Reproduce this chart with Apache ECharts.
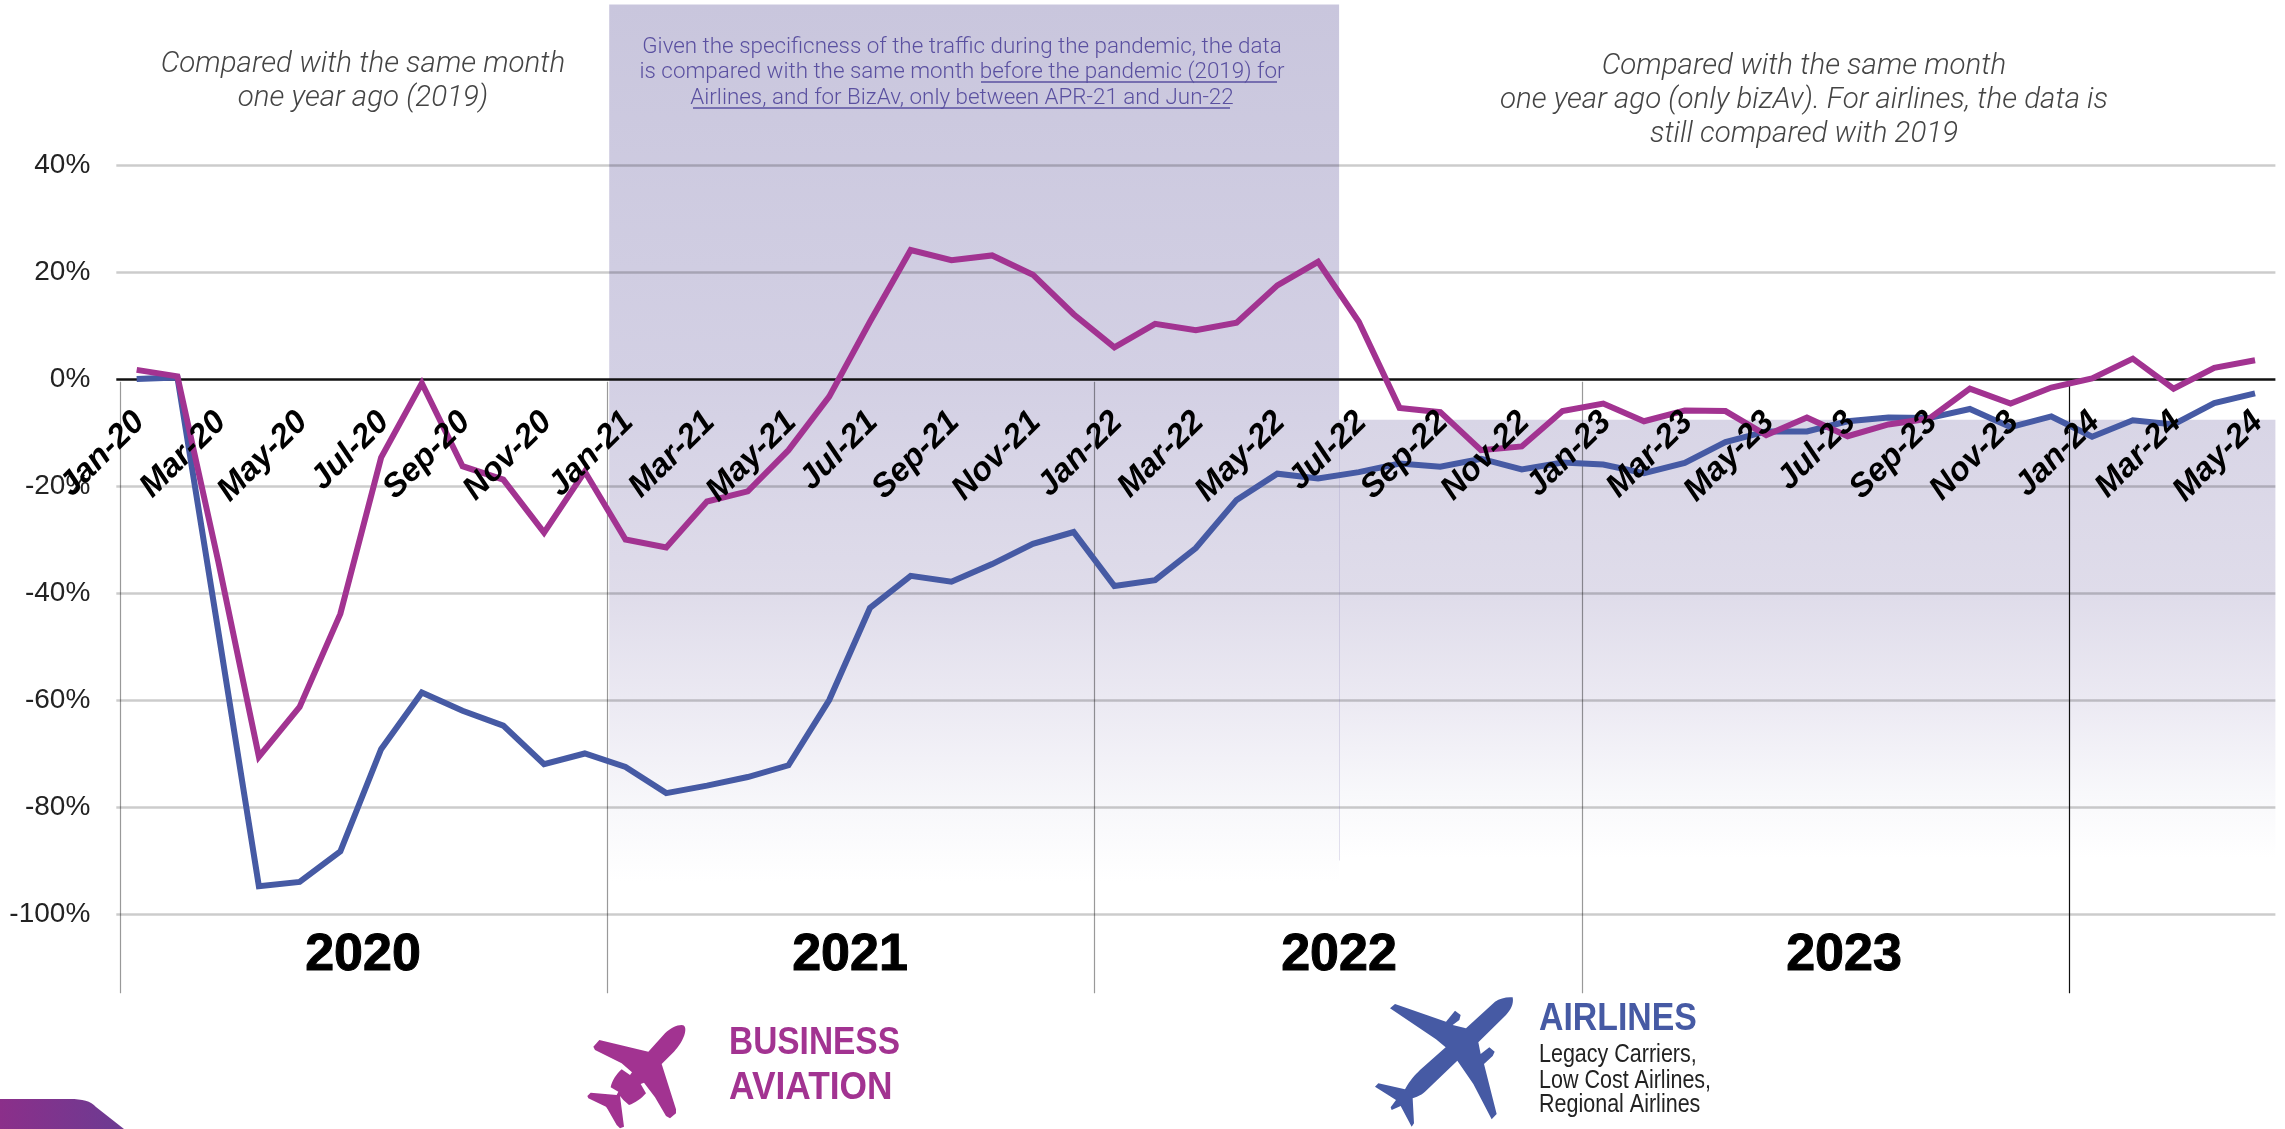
<!DOCTYPE html>
<html>
<head>
<meta charset="utf-8">
<style>
html,body{margin:0;padding:0;background:#fff}
#main{width:2285px;height:1129px}
</style>
<script src="https://cdn.jsdelivr.net/npm/echarts@6/dist/echarts.min.js"></script>
</head>
<body>
<div id="main"></div>
<script>
// monthly change, Jan-20 to May-24
const months = ['Jan-20','Feb-20','Mar-20','Apr-20','May-20','Jun-20','Jul-20','Aug-20','Sep-20','Oct-20','Nov-20','Dec-20',
  'Jan-21','Feb-21','Mar-21','Apr-21','May-21','Jun-21','Jul-21','Aug-21','Sep-21','Oct-21','Nov-21','Dec-21',
  'Jan-22','Feb-22','Mar-22','Apr-22','May-22','Jun-22','Jul-22','Aug-22','Sep-22','Oct-22','Nov-22','Dec-22',
  'Jan-23','Feb-23','Mar-23','Apr-23','May-23','Jun-23','Jul-23','Aug-23','Sep-23','Oct-23','Nov-23','Dec-23',
  'Jan-24','Feb-24','Mar-24','Apr-24','May-24'];
const bizav = [1.7,0.5,-34,-70.6,-61.3,-43.9,-14.7,-0.8,-16.3,-18.8,-28.7,-17.3,
  -30,-31.5,-22.9,-21,-13.3,-3.3,10.7,24.1,22.2,23.1,19.5,12.1,
  5.9,10.3,9.1,10.5,17.5,21.9,10.7,-5.4,-6.2,-13.3,-12.6,-6,
  -4.6,-7.9,-5.9,-6,-10.5,-7.2,-10.7,-8.5,-7.4,-1.8,-4.6,-1.6,
  0.1,3.8,-1.8,2.1,3.5];
const airlines = [0,0.3,-47,-94.8,-94,-88.3,-69.2,-58.6,-62,-64.8,-72,-70,
  -72.5,-77.4,-76,-74.4,-72.2,-60,-42.8,-36.8,-37.9,-34.6,-30.8,-28.6,
  -38.7,-37.6,-31.6,-22.6,-17.7,-18.6,-17.4,-15.8,-16.4,-14.9,-16.9,-15.6,
  -16,-17.6,-15.7,-11.8,-9.8,-9.8,-7.9,-7.2,-7.3,-5.6,-9,-7,
  -10.8,-7.7,-8.5,-4.5,-2.7];
const yTicks = [40,20,-20,-40,-60,-80,-100];
const yearLines = [2020,2021,2022,2023];
const yearLabels = ['2020','2021','2022','2023'];

const purple = '#a23391', blue = '#465aa4';
const textFont = 'Roboto', heading = 'Liberation Sans';

// icons, the graphic component has no plain path type
echarts.graphic.registerShape('planeBiz', echarts.graphic.extendPath('M335,45C345,45 348,55 345,68C340,90 325,110 312,125L275,162L318,298L318,310L300,325L288,318L255,262L222,218L212,222L228,250C215,265 195,280 177,285L160,270L150,258L162,350L150,355L140,345L113,298L108,290L55,265L52,258L62,248L140,255L145,245L122,232C125,215 140,190 155,178L180,195L186,187L155,160L75,120L70,110L88,90L235,125L285,70C300,55 320,45 335,45Z'));
echarts.graphic.registerShape('planeAir', echarts.graphic.extendPath('M458,22C462,42 452,60 438,75L355,157L362,192L388,172L404,185L398,198L372,222L410,372L395,388L340,282L292,212L195,305C180,318 170,320 158,325L162,400L155,410L122,348L95,360L92,352L108,330L45,290L55,280L135,298C150,270 165,255 180,240L257,172L228,148L90,55L105,42L258,95L285,62L302,75L298,90L278,105L318,115L405,35C420,25 440,20 458,22Z'));
echarts.graphic.registerShape('cornerTab', echarts.graphic.extendPath('M0,0L70,0C82,0 91,2 96,8L124,30L0,30Z'));

function txt(x, y, text, size, color, extra, squeeze) {
  return {type:'text', x:x, y:y, z:20, silent:true, scaleX:squeeze || 1, style:Object.assign({
    text:text, fontSize:size, fill:color, fontFamily:textFont, fontWeight:300,
    align:'center', verticalAlign:'middle', lineHeight:size*1.25
  }, extra || {})};
}
function rule(x1, x2, y, color) {
  return {type:'line', z:20, silent:true, shape:{x1:x1,y1:y,x2:x2,y2:y}, style:{stroke:color,lineWidth:1.5}};
}
const bold = {fontFamily:heading, fontWeight:'bold', align:'left'};
const annot = {fontStyle:'italic', lineHeight:34};
const year = {fontFamily:heading, fontWeight:'bold', stroke:'#000', lineWidth:1};
const small = {fontFamily:heading, fontWeight:'normal', align:'left'};

const graphics = [
  txt(363,82,'Compared with the same month\none year ago (2019)',29.5,'#444',annot),
  txt(962,72.5,'Given the specificness of the traffic during the pandemic, the data\nis compared with the same month before the pandemic (2019) for\nAirlines, and for BizAv, only between APR-21 and Jun-22',22.4,'#5a50a0',{lineHeight:25.5}),
  rule(981,1277,82,'#5a50a0'),
  rule(693,1230,108,'#5a50a0'),
  txt(1804,101,'Compared with the same month\none year ago (only bizAv). For airlines, the data is\nstill compared with 2019',29.5,'#444',annot),
  txt(363,956,yearLabels[0],52,'#000',year),
  txt(850,956,yearLabels[1],52,'#000',year),
  txt(1339,956,yearLabels[2],52,'#000',year),
  txt(1844,956,yearLabels[3],52,'#000',year),
  {type:'planeBiz', z:20, silent:true, x:570, y:1010, scaleX:1/3, scaleY:1/3, style:{fill:purple}},
  {type:'planeAir', z:20, silent:true, x:1360, y:990, scaleX:1/3, scaleY:1/3, style:{fill:blue}},
  txt(729,1044,'BUSINESS',38,purple,bold,0.88),
  txt(729,1089,'AVIATION',38,purple,bold,0.93),
  txt(1539,1020,'AIRLINES',38,blue,bold,0.89),
  txt(1539,1055,'Legacy Carriers,',25,'#222',small,0.86),
  txt(1539,1081,'Low Cost Airlines,',25,'#222',small,0.86),
  txt(1539,1105,'Regional Airlines',25,'#222',small,0.86),
  {type:'cornerTab', z:20, silent:true, x:0, y:1099,
    style:{fill:new echarts.graphic.LinearGradient(0,0,1,0,[{offset:0,color:'#8b2f8a'},{offset:1,color:'#6c3b92'}])}}
];

function fade(stops) {
  return new echarts.graphic.LinearGradient(0,0,0,1,stops.map(s => ({offset:s[0],color:s[1]})));
}
const shadeTop = fade([[0,'#c9c6dd'],[0.43,'#d3d0e4'],[0.67,'#dfdcea'],[0.8,'#eceaf3'],[0.92,'#f8f8fb'],[1,'#ffffff']]);
const shadeLow = fade([[0,'#d8d5e6'],[0.4,'#dfdcea'],[0.65,'#eceaf3'],[0.85,'#f8f8fb'],[1,'#ffffff']]);

const chart = echarts.init(document.getElementById('main'), null, {renderer:'canvas'});
chart.setOption({
  animation:false,
  backgroundColor:'#fff',
  grid:{left:116.3, right:9.6, top:4.5, bottom:108, containLabel:false, outerBoundsMode:'none'},
  xAxis:[{
    // labels hang under the zero line
    type:'category', data:months, boundaryGap:true, z:10, offset:-642,
    axisLine:{show:false, onZero:false},
    axisTick:{show:false},
    axisLabel:{interval:1, rotate:45, margin:41, padding:[0,-4,0,0], fontFamily:heading, fontWeight:'bold', fontStyle:'italic', fontSize:33, color:'#000', hideOverlap:false}
  },{
    // calendar axis for the year rules and shaded periods
    type:'value', show:false, position:'top', min:2019.9924, max:2024.4236,
    splitLine:{show:false}
  }],
  yAxis:{
    type:'value', min:-120, max:70,
    axisLine:{show:false}, axisTick:{show:false}, splitLine:{show:false},
    axisLabel:{customValues:yTicks.concat([0]), margin:26, formatter:'{value}%', fontFamily:heading, fontSize:28, color:'#222'}
  },
  graphic:graphics,
  series:[
    {
      type:'line', xAxisIndex:1, data:[], z:1, silent:true,
      markArea:{silent:true, data:[
        [{xAxis:2021.004, yAxis:70, itemStyle:{color:shadeTop}},{xAxis:2022.502, yAxis:-94}],
        [{xAxis:2022.502, yAxis:-7.6, itemStyle:{color:shadeLow}},{xAxis:2024.4236, yAxis:-89.6}]
      ]}
    },
    {
      type:'line', data:[], z:2, silent:true,
      markLine:{silent:true, symbol:'none', label:{show:false}, lineStyle:{type:'solid', color:'rgba(0,0,0,0.2)', width:2.5},
        data:yTicks.map(v => ({yAxis:v})).concat([{yAxis:0, lineStyle:{color:'#111', type:'solid', width:2.5}}])}
    },
    {
      type:'line', xAxisIndex:1, data:[], z:3, silent:true,
      markLine:{silent:true, symbol:'none', label:{show:false}, lineStyle:{type:'solid', color:'rgba(0,0,0,0.4)', width:1.2},
        data:yearLines.map(v => [{xAxis:v,yAxis:-0.5},{xAxis:v,yAxis:-114.8}]).concat([
          [{xAxis:2024,yAxis:-0.5,lineStyle:{color:'#111',type:'solid',width:1.2}},{xAxis:2024,yAxis:-114.8}],
          [{xAxis:2022.502,yAxis:-7.6,lineStyle:{color:'rgba(110,100,170,0.2)',type:'solid',width:1}},{xAxis:2022.502,yAxis:-90}]
        ])}
    },
    {name:'Airlines', type:'line', data:airlines, z:5, symbol:'none', lineStyle:{color:blue, width:6, join:'miter'}},
    {name:'Business Aviation', type:'line', data:bizav, z:6, symbol:'none', lineStyle:{color:purple, width:6, join:'miter'}}
  ]
});
</script>
</body>
</html>
